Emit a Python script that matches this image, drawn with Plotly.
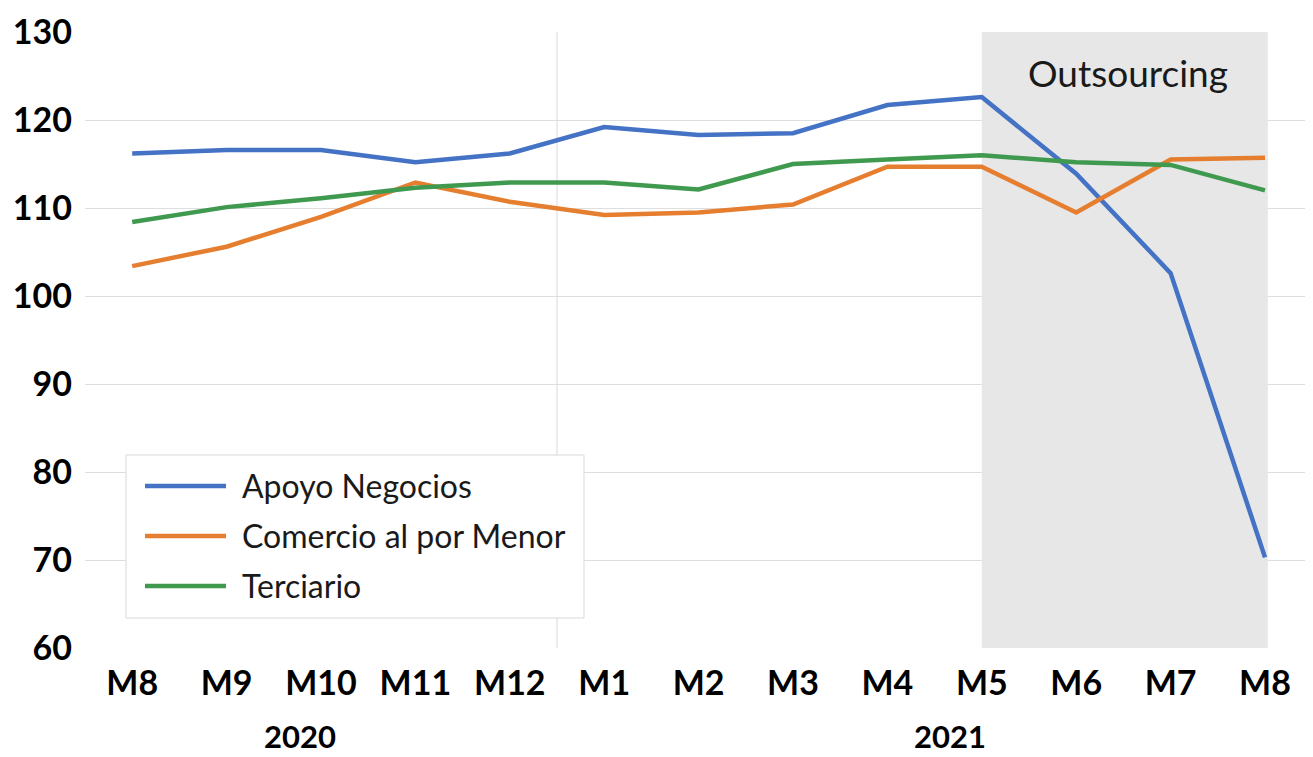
import plotly.graph_objects as go

months = ["M8", "M9", "M10", "M11", "M12", "M1", "M2", "M3", "M4", "M5", "M6", "M7", "M8"]
years = ["2020", "2021"]
apoyo = [116.2, 116.6, 116.6, 115.2, 116.2, 119.2, 118.3, 118.5, 121.7, 122.6, 113.9, 102.6, 70.3]
comercio = [103.4, 105.6, 109.0, 112.9, 110.7, 109.2, 109.5, 110.4, 114.7, 114.7, 109.5, 115.5, 115.7]
terciario = [108.4, 110.1, 111.1, 112.3, 112.9, 112.9, 112.1, 115.0, 115.5, 116.0, 115.2, 114.9, 112.0]
series_names = ["Apoyo Negocios", "Comercio al por Menor", "Terciario"]
colors = ["#4472C4", "#E67E30", "#3F9A4F"]
highlight_label = "Outsourcing"

# page has an 8px body margin; figure is sized so it fits inside the window
OFF = 8
W, H = 1297, 749
ML, MR, MT, MB = 85 - OFF, 0, 32 - OFF, H - (648 - OFF)
PW, PH = W - ML - MR, H - MT - MB
STEP = 94.4
XMAX = -0.5 + PW / STEP

def px(x):  # x in reference-window pixels
    return (x - OFF - ML) / PW

def py(y):
    return (H - MB - (y - OFF)) / PH

x = list(range(len(months)))
fig = go.Figure()
for name, vals, c in zip(series_names, [apoyo, comercio, terciario], colors):
    fig.add_trace(go.Scatter(x=x, y=vals, mode="lines", name=name,
                             line=dict(color=c, width=4.5), showlegend=False))

shapes = [
    dict(type="rect", xref="x", yref="y", x0=9, x1=12.03, y0=60, y1=130,
         fillcolor="#E7E7E7", line=dict(width=0), layer="between"),
    dict(type="line", xref="x", yref="y", x0=4.5, x1=4.5, y0=60, y1=130,
         line=dict(color="#D9D9D9", width=1), layer="between"),
    # legend box
    dict(type="rect", xref="paper", yref="paper", x0=px(126), x1=px(584), y0=py(618), y1=py(455),
         fillcolor="white", line=dict(color="#D9D9D9", width=1), layer="above"),
]
annotations = []
for i, (name, c) in enumerate(zip(series_names, colors)):
    yy = 486 + i * 50
    shapes.append(dict(type="line", xref="paper", yref="paper", x0=px(145), x1=px(226),
                       y0=py(yy), y1=py(yy), line=dict(color=c, width=4.5), layer="above"))
    annotations.append(dict(xref="paper", yref="paper", x=px(240), y=py(yy - 1), text=name,
                            showarrow=False, xanchor="left", yanchor="middle",
                            font=dict(family="Lato", size=32, color="#1a1a1a")))

annotations.append(dict(xref="x", yref="y", x=10.55, y=125.4, text=highlight_label, showarrow=False,
                        xanchor="center", yanchor="middle",
                        font=dict(family="Lato", size=37, color="#1a1a1a")))
for yr, xpos in zip(years, [1.78, 8.66]):
    annotations.append(dict(xref="x", yref="paper", x=xpos, y=py(736), text=f"<b>{yr}</b>",
                            showarrow=False, xanchor="center", yanchor="middle",
                            font=dict(family="Lato", size=31, color="black")))

fig.update_layout(
    width=W, height=H, margin=dict(l=ML, r=MR, t=MT, b=MB),
    plot_bgcolor="white", paper_bgcolor="white",
    shapes=shapes, annotations=annotations, showlegend=False,
    font=dict(family="Lato", color="black"),
)
fig.update_xaxes(range=[-0.5, XMAX], tickvals=x, ticktext=[f"<b>{m}</b>" for m in months],
                 tickfont=dict(family="Lato", size=34, color="black"), showgrid=False,
                 zeroline=False, showline=False, ticklabelstandoff=12)
fig.update_yaxes(range=[60, 130], tickvals=list(range(60, 131, 10)),
                 ticktext=[f"<b>{v}</b>" for v in range(60, 131, 10)],
                 tickfont=dict(family="Lato", size=34, color="black"), showgrid=True,
                 gridcolor="#DEDEDE", gridwidth=1, zeroline=False, showline=False,
                 ticklabelstandoff=12)

fig.write_html("out.html")
